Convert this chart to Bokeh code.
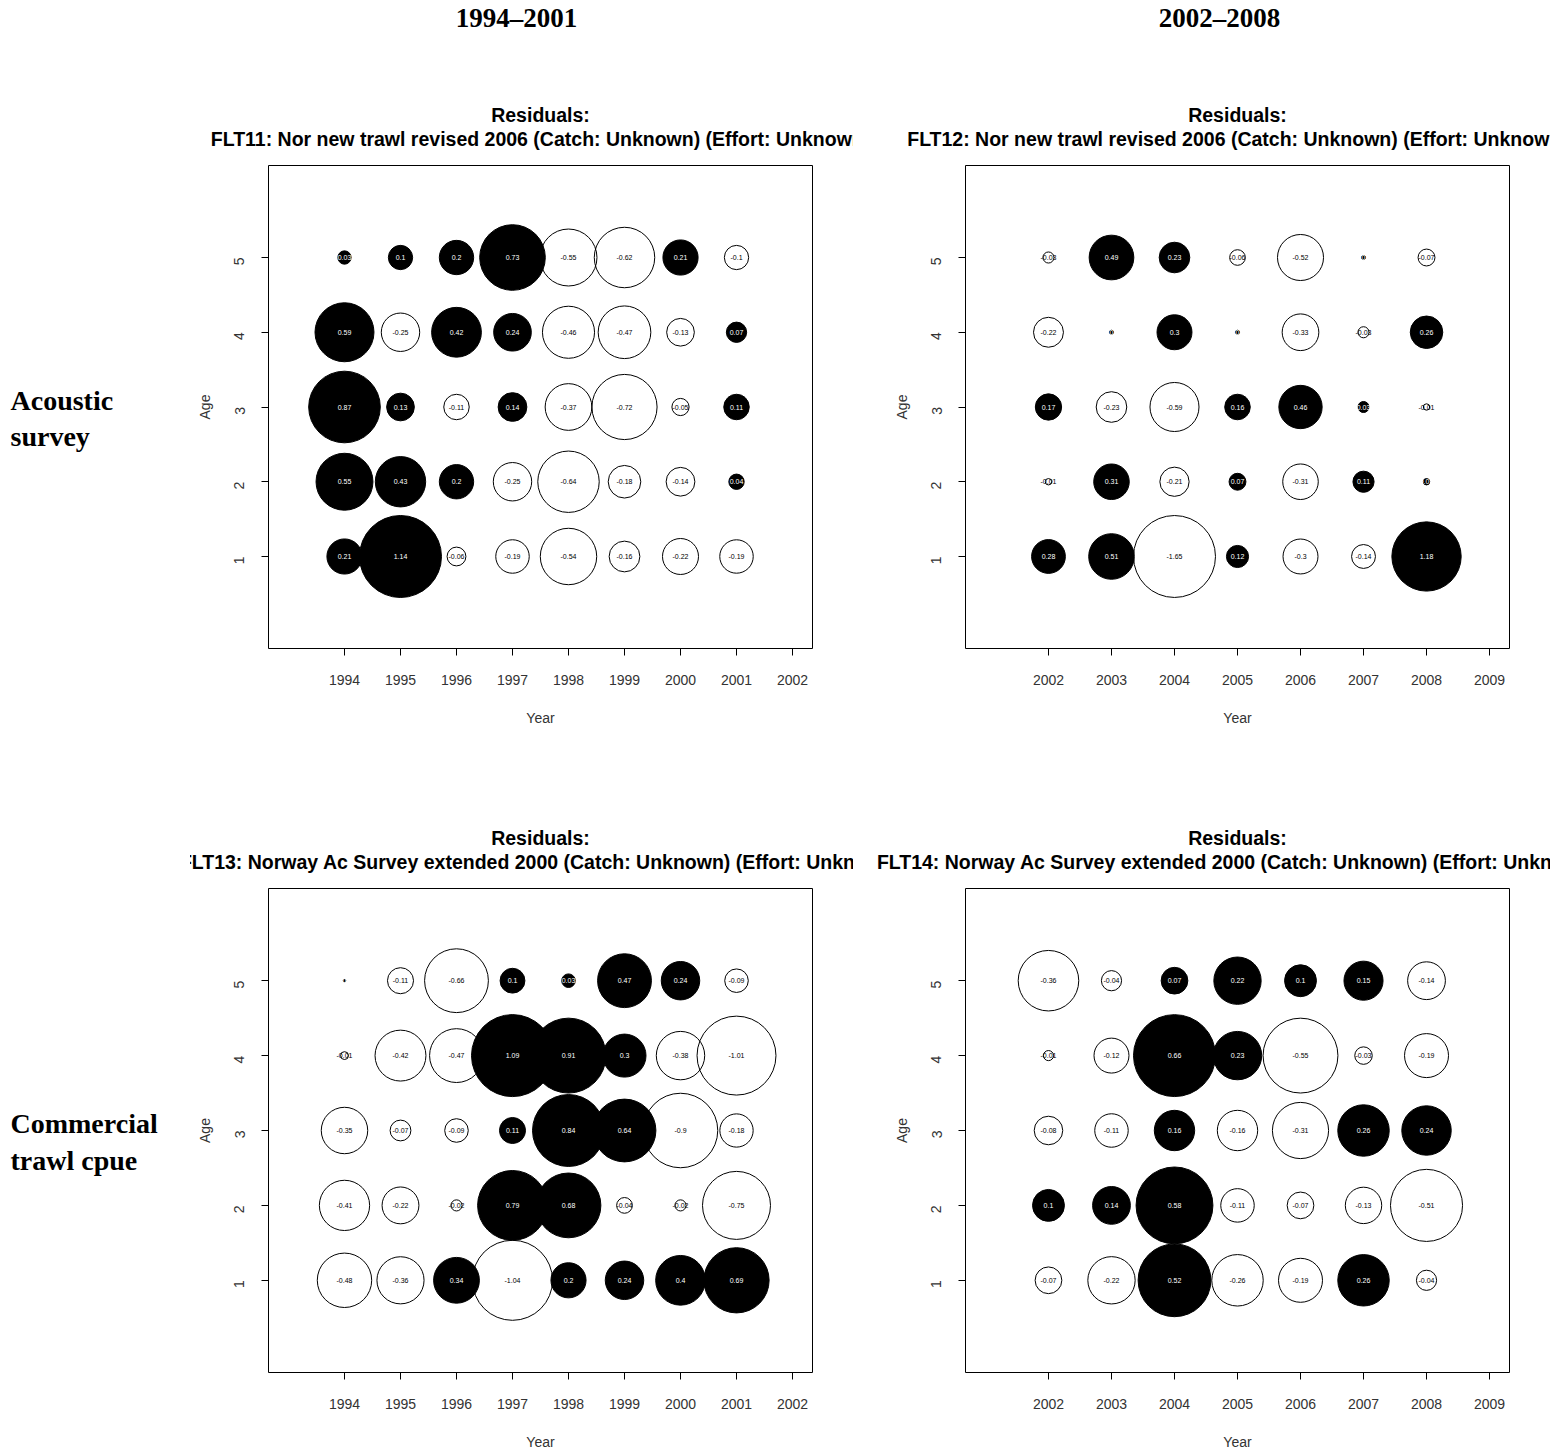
import math
from bokeh.plotting import figure
from bokeh.models import ColumnDataSource, Range1d, Title, Label, FixedTicker
from bokeh.layouts import row, column
from bokeh.embed import file_html
from bokeh.resources import INLINE
from bokeh.core.properties import value

# ---------------- data ----------------
ages = [1, 2, 3, 4, 5]
years_a = [1994, 1995, 1996, 1997, 1998, 1999, 2000, 2001]
years_b = [2002, 2003, 2004, 2005, 2006, 2007, 2008]
ticks_a = [1994, 1995, 1996, 1997, 1998, 1999, 2000, 2001, 2002]
ticks_b = [2002, 2003, 2004, 2005, 2006, 2007, 2008, 2009]

# residuals: one row per age (1..5), one column per year
flt11 = [
    [0.21, 1.14, -0.06, -0.19, -0.54, -0.16, -0.22, -0.19],
    [0.55, 0.43, 0.2, -0.25, -0.64, -0.18, -0.14, 0.04],
    [0.87, 0.13, -0.11, 0.14, -0.37, -0.72, -0.05, 0.11],
    [0.59, -0.25, 0.42, 0.24, -0.46, -0.47, -0.13, 0.07],
    [0.03, 0.1, 0.2, 0.73, -0.55, -0.62, 0.21, -0.1],
]
flt12 = [
    [0.28, 0.51, -1.65, 0.12, -0.3, -0.14, 1.18],
    [-0.01, 0.31, -0.21, 0.07, -0.31, 0.11, 0.01],
    [0.17, -0.23, -0.59, 0.16, 0.46, 0.03, -0.01],
    [-0.22, 0.004, 0.3, 0.004, -0.33, -0.03, 0.26],
    [-0.03, 0.49, 0.23, -0.06, -0.52, 0.004, -0.07],
]
flt13 = [
    [-0.48, -0.36, 0.34, -1.04, 0.2, 0.24, 0.4, 0.69],
    [-0.41, -0.22, -0.02, 0.79, 0.68, -0.04, -0.02, -0.75],
    [-0.35, -0.07, -0.09, 0.11, 0.84, 0.64, -0.9, -0.18],
    [-0.01, -0.42, -0.47, 1.09, 0.91, 0.3, -0.38, -1.01],
    [0.001, -0.11, -0.66, 0.1, 0.03, 0.47, 0.24, -0.09],
]
flt14 = [
    [-0.07, -0.22, 0.52, -0.26, -0.19, 0.26, -0.04],
    [0.1, 0.14, 0.58, -0.11, -0.07, -0.13, -0.51],
    [-0.08, -0.11, 0.16, -0.16, -0.31, 0.26, 0.24],
    [-0.01, -0.12, 0.66, 0.23, -0.55, -0.03, -0.19],
    [-0.36, -0.04, 0.07, 0.22, 0.1, 0.15, -0.14],
]

title_11 = "FLT11: Nor new trawl revised 2006 (Catch: Unknown) (Effort: Unknown)"
title_12 = "FLT12: Nor new trawl revised 2006 (Catch: Unknown) (Effort: Unknown)"
title_13 = "FLT13: Norway Ac Survey extended 2000 (Catch: Unknown) (Effort: Unknown)"
title_14 = "FLT14: Norway Ac Survey extended 2000 (Catch: Unknown) (Effort: Unknown)"
headers = ["1994\u20132001", "2002\u20132008"]
row_label_1 = ["Acoustic", "survey"]
row_label_2 = ["Commercial", "trawl cpue"]

SANS = "Liberation Sans"
SERIF = "Liberation Serif"
MAX_R = 41          # px radius of the largest bubble in each panel
FRAME_H = 483       # px
Y_PAD = 1.231       # age units beyond first/last age
Y0, Y1 = ages[0] - Y_PAD, ages[-1] + Y_PAD
PX_PER_AGE = FRAME_H / (Y1 - Y0)
TOTAL_W = 1550
HEADER_H = 40


def fmt(v):
    s = "%g" % round(v, 2)
    return "0" if s == "-0" else s


def panel(vals, years, ticks, title_text, width, height, bl, br, bt, bb,
          x_pad_left, x_pad_right):
    maxabs = max(abs(v) for r in vals for v in r)
    pos = dict(x=[], y=[], size=[], label=[])
    neg = dict(x=[], y=[], size=[], label=[])
    for i, age in enumerate(ages):
        for j, yr in enumerate(years):
            v = vals[i][j]
            d = pos if v >= 0 else neg
            d["x"].append(yr)
            d["y"].append(age)
            d["size"].append(2 * MAX_R * math.sqrt(abs(v) / maxabs))
            d["label"].append(fmt(v))
    x0, x1 = ticks[0] - x_pad_left, ticks[-1] + x_pad_right
    p = figure(width=width, height=height,
               x_range=Range1d(x0, x1), y_range=Range1d(Y0, Y1),
               output_backend="svg", toolbar_location=None,
               min_border_left=bl, min_border_right=br,
               min_border_top=bt, min_border_bottom=bb)
    sn = ColumnDataSource(neg)
    sp = ColumnDataSource(pos)
    p.scatter("x", "y", size="size", source=sn, fill_color=None,
              line_color="black", line_width=1)
    p.scatter("x", "y", size="size", source=sp, fill_color="black",
              line_color="black", line_width=1)
    p.text("x", "y", text="label", source=sn, text_color="black",
           text_font=value(SANS), text_font_size="7px",
           text_align="center", text_baseline="middle")
    p.text("x", "y", text="label", source=sp, text_color="white",
           text_font=value(SANS), text_font_size="7px",
           text_align="center", text_baseline="middle")

    p.xgrid.visible = False
    p.ygrid.visible = False
    p.outline_line_color = "black"
    p.outline_line_alpha = 1.0
    p.outline_line_width = 1

    p.xaxis.ticker = FixedTicker(ticks=ticks)
    p.yaxis.ticker = FixedTicker(ticks=ages)
    p.xaxis.axis_label = "Year"
    p.yaxis.axis_label = "Age"
    for ax in (p.xaxis[0], p.yaxis[0]):
        ax.axis_line_color = None
        ax.major_tick_in = 0
        ax.major_tick_out = 7
        ax.major_tick_line_color = "black"
        ax.minor_tick_line_color = None
        ax.major_label_text_font = SANS
        ax.major_label_text_font_size = "14px"
        ax.major_label_text_color = "#333333"
        ax.axis_label_text_font = SANS
        ax.axis_label_text_font_size = "14px"
        ax.axis_label_text_font_style = "normal"
        ax.axis_label_text_color = "#333333"
    p.xaxis.major_label_standoff = 19
    p.xaxis.axis_label_standoff = 22
    p.yaxis.major_label_standoff = 22
    p.yaxis.axis_label_standoff = 14
    p.yaxis.major_label_orientation = math.pi / 2

    # title stack, innermost first: spacer, fleet line, "Residuals:"
    p.add_layout(Title(text=" ", text_font_size="1px", standoff=13), "above")
    p.add_layout(Title(text=title_text, align="center", text_font=SANS,
                       text_font_size="19.5px", text_font_style="bold",
                       text_color="black", standoff=0), "above")
    p.add_layout(Title(text="Residuals:", align="center", text_font=SANS,
                       text_font_size="19.5px", text_font_style="bold",
                       text_color="black", standoff=0), "above")
    return p


def label_fig(lines, height):
    f = figure(width=190, height=height, x_range=Range1d(0, 190),
               y_range=Range1d(Y0, Y1), output_backend="svg",
               toolbar_location=None, x_axis_type=None, y_axis_type=None,
               min_border=0)
    f.xgrid.visible = False
    f.ygrid.visible = False
    f.outline_line_color = None
    for k, t in enumerate(lines):
        y_px = 235 + 36 * k  # px below frame top
        f.add_layout(Label(x=10, y=Y1 - y_px / PX_PER_AGE, text=t,
                           text_font=SERIF, text_font_size="28px",
                           text_font_style="bold", text_color="black",
                           text_baseline="middle", text_align="left"))
    return f


def header_fig():
    f = figure(width=TOTAL_W, height=HEADER_H, x_range=Range1d(0, TOTAL_W),
               y_range=Range1d(HEADER_H, 0), output_backend="svg",
               toolbar_location=None, x_axis_type=None, y_axis_type=None,
               min_border=0)
    f.xgrid.visible = False
    f.ygrid.visible = False
    f.outline_line_color = None
    for cx, t in zip([516, 1219], headers):
        f.add_layout(Label(x=cx, y=17, text=t, text_font=SERIF,
                           text_font_size="27px", text_font_style="bold",
                           text_color="black", text_align="center",
                           text_baseline="middle"))
    return f


h = header_fig()
p1 = panel(flt11, years_a, ticks_a, title_11, 663, 691, 78, 41, 125, 83, 1.357, 0.357)
p2 = panel(flt12, years_b, ticks_b, title_12, 697, 691, 112, 41, 125, 83, 1.317, 0.317)
p3 = panel(flt13, years_a, ticks_a, title_13, 663, 721, 78, 41, 157, 80, 1.357, 0.357)
p4 = panel(flt14, years_b, ticks_b, title_14, 697, 721, 112, 41, 157, 80, 1.317, 0.317)
l1 = label_fig(row_label_1, 691)
l2 = label_fig(row_label_2, 721)

layout = column(h, row(l1, p1, p2), row(l2, p3, p4))
open("out.html", "w").write(file_html(layout, INLINE))
